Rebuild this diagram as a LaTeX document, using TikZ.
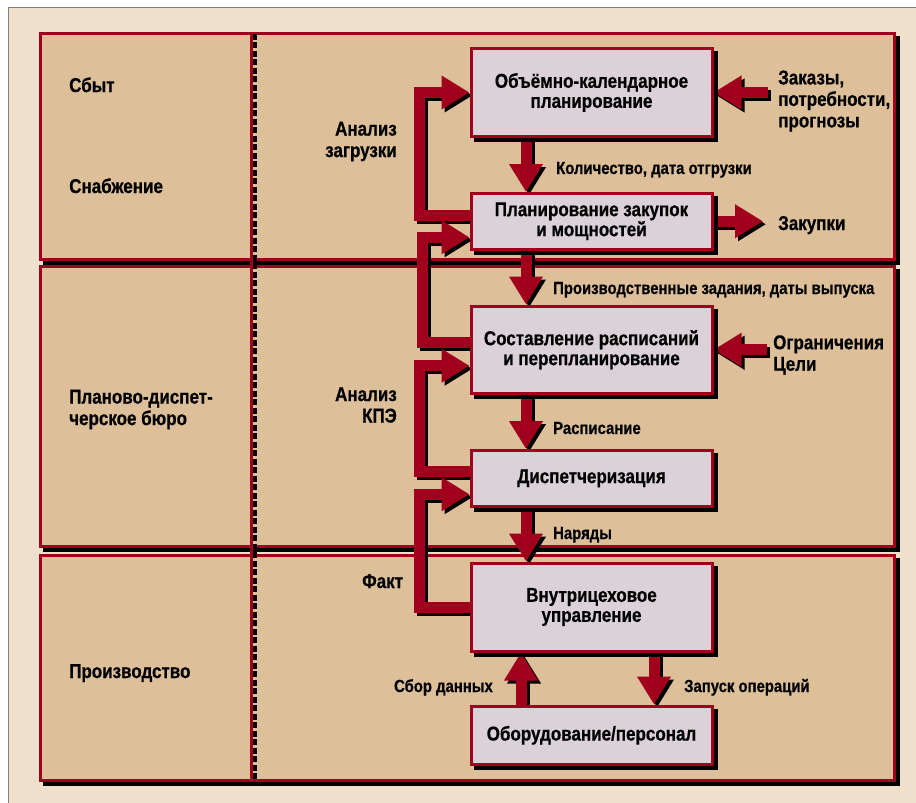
\documentclass[tikz,border=0pt]{standalone}
\usepackage{fontspec}
\setmainfont[FakeStretch=0.85, BoldFeatures={FakeBold=0.6}]{Liberation Sans}
\usetikzlibrary{arrows.meta,positioning,calc}

\definecolor{pagebg}{RGB}{238,224,202}
\definecolor{lanetan}{RGB}{221,192,153}
\definecolor{flowred}{RGB}{160,0,27}
\definecolor{boxgrey}{RGB}{219,209,216}

\pgfdeclarelayer{lanes}
\pgfdeclarelayer{flows}
\pgfdeclarelayer{shades}
\pgfsetlayers{lanes,flows,shades,main}

% all block arrows, #1 = style, #2 = offset
\newcommand\flowpaths[2]{%
  \foreach \a/\b in {plan/buy, buy/sched, sched/disp, disp/shop}
    \draw[#1] ($(\a.south)+(-65.5,0)+#2$) -- ($(\b.north)+(-65.5,0)+#2$);
  \draw[#1] ($(buy.west)+(0,-6)+#2$) -| ($(plan.west)+(-50.5,0)+#2$) -- ($(plan.west)+#2$);
  \draw[#1] ($(sched.west)+(0,-7)+#2$) -| ($(buy.west)+(-47.5,16)+#2$) -- ($(buy.west)+(0,16)+#2$);
  \draw[#1] ($(disp.west)+(0,-7)+#2$) -| ($(sched.west)+(-50.5,16)+#2$) -- ($(sched.west)+(0,16)+#2$);
  \draw[#1] ($(shop.west)+#2$) -| ($(disp.west)+(-50.5,16)+#2$) -- ($(disp.west)+(0,16)+#2$);
  \draw[#1] ($(orders.west |- plan.east)+(-10,0)+#2$) -- ($(plan.east)+#2$);
  \draw[#1] ($(buy.east)+#2$) -- ($(buy.east -| purch.west)+(-15,0)+#2$);
  \draw[#1] ($(limits.west |- sched.east)+(-6,0)+#2$) -- ($(sched.east)+#2$);
  \draw[#1] ($(shop.south)+(62.5,0)+#2$) -- ($(equip.north)+(62.5,0)+#2$);
  \draw[#1] ($(equip.north)+(-70.5,0)+#2$) -- ($(shop.south)+(-70.5,0)+#2$);
}

\begin{document}
\begin{tikzpicture}[
    x=1pt, y=-1pt,
    node distance=54pt,
    lane/.style={draw=flowred, line width=3pt, fill=lanetan},
    box/.style={rectangle, draw=flowred, line width=3pt, fill=boxgrey, minimum width=241pt, align=center, inner sep=0pt, font=\bfseries\fontsize{20}{20}\selectfont},
    flow/.style={draw=flowred, line width=11pt, -{Triangle[width=32pt,length=28pt]}},
    flowtxt/.style={font=\bfseries\fontsize{17.5}{20}\selectfont, inner sep=0pt, anchor=base west},
    tag/.style={font=\bfseries\fontsize{20}{21.5}\selectfont, inner sep=0pt, align=left}
]
\useasboundingbox (0,0) rectangle (916,803);

% page and lanes
\begin{pgfonlayer}{lanes}
\fill[white] (0,0) rectangle (916,803);
\fill[pagebg] (8,7) rectangle (916,803);
\draw[gray, line width=1pt] (8,803) -- (8,7) -- (916,7);
\foreach \t/\b in {33.5/259, 266.5/546.5, 555/780} {
  \filldraw[line width=3pt] (44,{\t+4}) rectangle (898,{\b+4});
  \draw[lane] (40,\t) rectangle (894,\b);
}
\draw[flowred, line width=3pt] (251.5,33.5) -- (251.5,780);
\draw[line width=3.5pt, dash pattern=on 6pt off 2.5pt] (255,33.5) -- (255,782);
\end{pgfonlayer}

% planning chain
\node[box, minimum height=88pt] (plan) at (591.5,92.5) {Объёмно-календарное\\планирование};
\node[box, minimum height=55.5pt, below=of plan] (buy) {Планирование закупок\\и мощностей};
\node[box, minimum height=87.5pt, below=of buy] (sched) {Составление расписаний\\и перепланирование};
\node[box, minimum height=55.5pt, below=of sched] (disp) {Диспетчеризация};
\node[box, minimum height=88pt, below=of disp] (shop) {Внутрицеховое\\управление};
\node[box, minimum height=58.5pt, below=52pt of shop] (equip) {Оборудование/персонал};

\begin{pgfonlayer}{shades}
\foreach \n in {plan, buy, sched, disp, shop, equip}
  \fill ($(\n.north west)+(4,4)$) rectangle ($(\n.south east)+(4,4)$);
\end{pgfonlayer}

% lane and side texts
\node[tag, anchor=base west] (sales) at (69,92) {Сбыт};
\node[tag, anchor=base west] (supply) at (69,193) {Снабжение};
\node[tag, anchor=west] (office) at (69,409.5) {Планово-диспет-\\черское бюро};
\node[tag, anchor=base west] (prod) at (69,678) {Производство};
\node[tag, anchor=east, align=right] (load) at (397,141.5) {Анализ\\загрузки};
\node[tag, anchor=east, align=right] (kpi) at (397,405) {Анализ\\КПЭ};
\node[tag, anchor=base west] (fact) at (362,588) {Факт};
\node[tag, anchor=west] (orders) at (778,101) {Заказы,\\потребности,\\прогнозы};
\node[tag, anchor=base west] (purch) at (778,230) {Закупки};
\node[tag, anchor=west] (limits) at (773,355) {Ограничения\\Цели};

\node[flowtxt] (qty) at (556,174) {Количество, дата отгрузки};
\node[flowtxt] (jobs) at (553,294) {Производственные задания, даты выпуска};
\node[flowtxt] (timetable) at (553,434) {Расписание};
\node[flowtxt] (workorders) at (553,539) {Наряды};
\node[flowtxt] (launch) at (684,692) {Запуск операций};
\node[flowtxt, anchor=base east] (collect) at (493,692) {Сбор данных};

% block arrows with their black offset copy
\begin{pgfonlayer}{flows}
\flowpaths{flow, draw=black}{(3,3)}
\flowpaths{flow}{(0,0)}
\end{pgfonlayer}
\end{tikzpicture}
\end{document}
